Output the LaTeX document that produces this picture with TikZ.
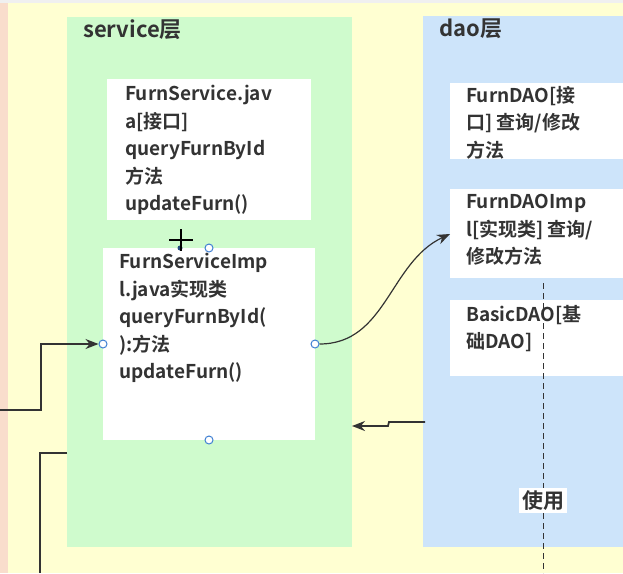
\documentclass[tikz,border=0pt]{standalone}
\usepackage{fontspec}
\setmainfont{Noto Sans CJK SC}[BoldFont={Noto Sans CJK SC Bold}]
\usetikzlibrary{positioning, arrows.meta, calc}
\definecolor{paleyellow}{HTML}{FFFFD2}
\definecolor{palepink}{HTML}{F9DDCC}
\definecolor{svcgreen}{HTML}{CFFBCD}
\definecolor{daoblue}{HTML}{CDE4FA}
\definecolor{inkgray}{HTML}{333333}
\definecolor{handleblue}{HTML}{3F80D2}

\begin{document}
\begin{tikzpicture}[
  x=1pt, y=-1pt,
  layer/.style={fill=#1, draw=none, inner sep=0pt, outer sep=0pt, anchor=north west},
  classbox/.style={fill=white, draw=none, inner sep=0pt, outer sep=0pt, anchor=north west},
  boxtext/.style={anchor=north west, inner sep=0pt, align=left, text=inkgray,
    font=\fontsize{19}{27.5}\selectfont\bfseries},
  ltitle/.style={anchor=north west, inner sep=0pt, text=inkgray,
    font=\fontsize{22}{26}\selectfont\bfseries},
  handle/.style={circle, draw=handleblue, fill=white, line width=1pt,
    inner sep=0pt, minimum size=8pt},
  arrow/.style={-{Stealth[length=13pt, width=10pt]}, line width=1.2pt, draw=inkgray},
  link/.style={line width=1.2pt, draw=inkgray},
  usage/.style={line width=1pt, draw=inkgray, dash pattern=on 6pt off 4pt},
  uselabel/.style={fill=white, inner sep=3pt, text=inkgray,
    font=\fontsize{21}{24}\selectfont\bfseries},
]
\useasboundingbox (0,0) rectangle (623,573);

% ---- background ----
\fill[paleyellow] (0,0) rectangle (623,573);
\fill[palepink] (0,3) rectangle (8,573);
\fill[gray!12] (0,0) rectangle (623,3);

% ---- service layer ----
\node[layer=svcgreen, minimum width=285pt, minimum height=530pt] (svc) at (67,17) {};
\node[ltitle] (svctitle) at (83,19) {service层};
\node[classbox, minimum width=204pt, minimum height=141pt] (fs) at (107,79) {};
\node[boxtext] (fstext) at (125,85) {FurnService.jav\\a[接口]\\queryFurnById\\方法\\updateFurn()};
\node[classbox, minimum width=212pt, minimum height=192pt] (fsi) at (103,248) {};
\node[boxtext] (fsitext) at (119,253) {FurnServiceImp\\l.java实现类\\queryFurnById(\\):方法\\updateFurn()};

% ---- dao layer ----
\node[layer=daoblue, minimum width=200pt, minimum height=531pt] (dao) at (423,16) {};
\node[ltitle] (daotitle) at (439,19) {dao层};
\node[classbox, minimum width=173pt, minimum height=76pt] (fd) at (450,83) {};
\node[boxtext] (fdtext) at (466,86) {FurnDAO[接\\口] 查询/修改\\方法};
\node[classbox, minimum width=173pt, minimum height=89pt] (fdi) at (450,189) {};
\node[boxtext] (fditext) at (466,194) {FurnDAOImp\\l[实现类] 查询/\\修改方法};
\node[classbox, minimum width=173pt, minimum height=76pt] (bd) at (450,300) {};
\node[boxtext] (bdtext) at (466,305) {BasicDAO[基\\础DAO]};

% ---- selection handles ----
\node[handle] (htop) at (fsi.north) {};
\node[handle] (hleft) at (fsi.west) {};
\node[handle] (hright) at (fsi.east) {};
\node[handle] (hbot) at (fsi.south) {};

% ---- connectors ----
\coordinate (inL) at (0,410);
\coordinate (bendL) at (41,410);
\draw[arrow] (inL) -- (bendL) |- (hleft.west);
\coordinate (outL) at (40,573);
\draw[link] ($(svc.north west)+(0,436)$) -| (outL);
\draw[arrow] (hright.east) to[out=0, in=205] ($(fdi.north west)+(0,45)$);
\coordinate (retA) at (389,422);
\coordinate (retB) at (388,426);
\draw[arrow, line width=1.8pt] ($(dao.north west)+(2,406)$) -- (retA) -- (retB) -- ($(svc.north east)+(0,409)$);
\coordinate (usetop) at (543,283);
\coordinate (usebot) at (543,573);
\draw[usage] (usetop) -- node[uselabel, pos=0.75] (uselbl) {使用} (usebot);

% ---- cursor ----
\fill[handleblue!60!black] (180,248) circle (2.5pt);
\draw[line width=1.6pt, black] (181,229) -- (181,251);
\draw[line width=1.6pt, black] (169,240) -- (193,240);

\end{tikzpicture}
\end{document}
